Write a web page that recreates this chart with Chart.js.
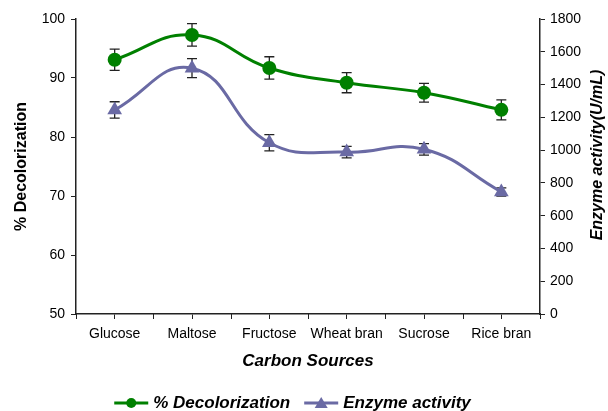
<!DOCTYPE html>
<html>
<head>
<meta charset="utf-8">
<script src="https://cdn.jsdelivr.net/npm/chart.js@4.4.1/dist/chart.umd.min.js"></script>
<style>
html,body{margin:0;padding:0;background:#fff;}
#wrap{width:608px;height:411px;position:relative;}
</style>
</head>
<body>
<div id="wrap"><canvas id="c" width="608" height="411"></canvas></div>
<script>
const categories = ['Glucose', 'Maltose', 'Fructose', 'Wheat bran', 'Sucrose', 'Rice bran'];
const decolorization = [93.1, 97.3, 91.7, 89.2, 87.5, 84.6];
const decolorizationErr = [1.8, 1.9, 1.9, 1.7, 1.6, 1.7];
const enzymeActivity = [1245, 1500, 1045, 988, 1005, 745];
const enzymeErr = [50, 58, 50, 35, 35, 25];
const leftTicks = [50, 60, 70, 80, 90, 100];
const rightTicks = [0, 200, 400, 600, 800, 1000, 1200, 1400, 1600, 1800];

const GREEN = '#008000';
const PURPLE = '#6A6AA4';
const FONT = "'Liberation Sans', Arial, sans-serif";
const AXIS = '#222';

const errorBars = {
  id: 'errorBars',
  beforeDatasetsDraw(chart) {
    const ctx = chart.ctx;
    ctx.save();
    ctx.strokeStyle = '#222';
    ctx.lineWidth = 1.3;
    chart.data.datasets.forEach((ds, di) => {
      const meta = chart.getDatasetMeta(di);
      const ys = chart.scales[ds.yAxisID];
      meta.data.forEach((pt, i) => {
        const v = ds.data[i], e = ds.errors[i];
        const yt = ys.getPixelForValue(v + e), yb = ys.getPixelForValue(v - e);
        const x = pt.x;
        ctx.beginPath();
        ctx.moveTo(x, yt); ctx.lineTo(x, yb);
        ctx.moveTo(x - 5, yt); ctx.lineTo(x + 5, yt);
        ctx.moveTo(x - 5, yb); ctx.lineTo(x + 5, yb);
        ctx.stroke();
      });
    });
    ctx.restore();
  }
};

const extras = {
  id: 'extras',
  afterDraw(chart) {
    const ctx = chart.ctx;
    const xs = chart.scales.x;
    const area = chart.chartArea;
    ctx.save();
    // boundary ticks on x axis
    ctx.strokeStyle = AXIS;
    ctx.lineWidth = 1;
    const half = (xs.getPixelForValue(1) - xs.getPixelForValue(0)) / 2;
    for (let i = 0; i <= categories.length; i++) {
      const x = Math.round(xs.getPixelForValue(0) - half + i * half * 2) + 0.5;
      ctx.beginPath();
      ctx.moveTo(x, area.bottom);
      ctx.lineTo(x, area.bottom + 5);
      ctx.stroke();
    }
    // right axis title (reads bottom to top)
    ctx.fillStyle = '#000';
    ctx.font = "italic bold 16px " + FONT;
    ctx.textAlign = 'center';
    ctx.textBaseline = 'middle';
    ctx.translate(598, 155);
    ctx.rotate(-Math.PI / 2);
    ctx.fillText('Enzyme activity(U/mL)', 0, 0);
    ctx.restore();

    // legend
    ctx.save();
    ctx.font = "italic bold 17px " + FONT;
    ctx.textBaseline = 'middle';
    ctx.textAlign = 'left';
    const items = [
      {label: chart.data.datasets[0].label, color: GREEN, style: 'circle'},
      {label: chart.data.datasets[1].label, color: PURPLE, style: 'triangle'}
    ];
    const lineW = 34, gap = 5, itemGap = 14;
    let total = 0;
    items.forEach((it, i) => { total += lineW + gap + ctx.measureText(it.label).width + (i ? 0 : itemGap); });
    let x = 292.5 - total / 2;
    const y = 403;
    items.forEach(it => {
      ctx.strokeStyle = it.color;
      ctx.fillStyle = it.color;
      ctx.lineWidth = 3;
      ctx.beginPath();
      ctx.moveTo(x, y); ctx.lineTo(x + lineW, y);
      ctx.stroke();
      const cx = x + lineW / 2;
      ctx.beginPath();
      if (it.style === 'circle') {
        ctx.arc(cx, y, 5, 0, Math.PI * 2);
      } else {
        ctx.moveTo(cx, y - 6); ctx.lineTo(cx + 6.5, y + 5); ctx.lineTo(cx - 6.5, y + 5); ctx.closePath();
      }
      ctx.fill();
      x += lineW + gap;
      ctx.fillStyle = '#000';
      ctx.fillText(it.label, x, y);
      x += ctx.measureText(it.label).width + itemGap;
    });
    ctx.restore();
  }
};

new Chart(document.getElementById('c'), {
  type: 'line',
  data: {
    labels: categories,
    datasets: [
      {
        label: '% Decolorization',
        data: decolorization,
        errors: decolorizationErr,
        yAxisID: 'y',
        borderColor: GREEN,
        backgroundColor: GREEN,
        borderWidth: 3,
        pointStyle: 'circle',
        pointRadius: 7,
        pointBorderWidth: 0,
        tension: 0.45,
        fill: false
      },
      {
        label: 'Enzyme activity',
        data: enzymeActivity,
        errors: enzymeErr,
        yAxisID: 'y1',
        borderColor: PURPLE,
        backgroundColor: PURPLE,
        borderWidth: 3,
        pointStyle: 'triangle',
        pointRadius: 8.5,
        pointBorderWidth: 0,
        tension: 0.45,
        fill: false
      }
    ]
  },
  options: {
    responsive: false,
    animation: false,
    devicePixelRatio: 1,
    layout: {padding: {top: 19, bottom: 39, left: 0, right: 0}},
    plugins: {legend: {display: false}, tooltip: {enabled: false}},
    scales: {
      x: {
        type: 'category',
        offset: true,
        afterFit(s) { s.height = 58; },
        border: {display: true, color: AXIS, width: 1.5},
        grid: {display: true, drawOnChartArea: false, drawTicks: true, tickLength: 5, color: AXIS, offset: false},
        ticks: {color: '#000', font: {family: FONT, size: 14}, padding: 7, maxRotation: 0, autoSkip: false},
        title: {display: true, text: 'Carbon Sources', color: '#000', font: {family: FONT, size: 17, weight: 'bold', style: 'italic'}, padding: {top: 0, bottom: 0}}
      },
      y: {
        type: 'linear',
        position: 'left',
        min: 50, max: 100,
        afterFit(s) { s.width = 76; },
        afterBuildTicks(s) { s.ticks = leftTicks.map(v => ({value: v})); },
        border: {display: true, color: AXIS, width: 1.5},
        grid: {display: true, drawOnChartArea: false, tickLength: 5, color: AXIS},
        ticks: {color: '#000', font: {family: FONT, size: 14}, padding: 6},
        title: {display: true, text: '% Decolorization', color: '#000', font: {family: FONT, size: 16, weight: 'bold'}, padding: {top: 12, bottom: 0}}
      },
      y1: {
        type: 'linear',
        position: 'right',
        min: 0, max: 1800,
        afterFit(s) { s.width = 68; },
        afterBuildTicks(s) { s.ticks = rightTicks.map(v => ({value: v})); },
        border: {display: true, color: AXIS, width: 1.5},
        grid: {display: true, drawOnChartArea: false, tickLength: 5, color: AXIS},
        ticks: {color: '#000', font: {family: FONT, size: 14}, padding: 5, callback: v => String(v)}
      }
    }
  },
  plugins: [errorBars, extras]
});
</script>
</body>
</html>
